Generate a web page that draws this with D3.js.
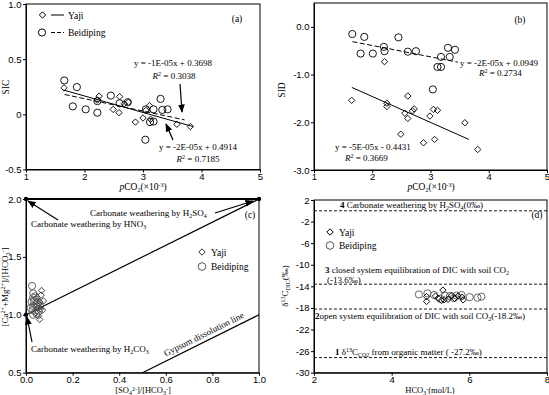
<!DOCTYPE html>
<html><head><meta charset="utf-8">
<script src="https://cdn.jsdelivr.net/npm/d3@7"></script>
<style>
body{margin:0;background:#fff;}
svg{display:block;font-family:"Liberation Serif","Times New Roman",serif;}
.tick text{font-size:9.5px;fill:#000;}
.domain,.tick line{stroke:#000;}
</style></head><body>
<svg id="c" width="549" height="395"></svg>
<script>
// ---------- Panel (a) SIC vs pCO2 ----------
const yajiPCO2a = [1.65, 2.22, 2.25, 2.49, 2.59, 2.60, 2.68, 2.75, 2.87, 3.00, 3.05, 3.11, 3.13, 3.58, 3.81];
const yajiSIC   = [0.24, 0.13, 0.165, 0.045, 0.015, 0.16, 0.096, 0.11, -0.07, -0.033, 0.036, 0.08, -0.045, -0.09, -0.11];
const beiPCO2a  = [1.655, 1.80, 1.87, 2.02, 2.22, 2.22, 2.45, 2.60, 2.74, 3.04, 3.05, 3.12, 3.18, 3.18, 3.30, 3.33, 3.42];
const beiSIC    = [0.307, 0.072, 0.247, 0.045, 0.015, 0.12, 0.17, 0.10, 0.11, -0.23, 0.045, -0.07, 0.045, -0.065, 0.14, 0.04, 0.045];
const trendYajiAx = [1.64, 3.85], trendYajiAy = [0.22, -0.11];
const trendBeiAx  = [1.66, 3.71], trendBeiAy  = [0.18, -0.05];
const aXTicks = [1, 2, 3, 4, 5], aXLabels = ["1", "2", "3", "4", "5"];
const aYTicks = [-0.5, 0, 0.5, 1.0], aYLabels = ["-0.5", "0", "0.5", "1.0"];

// ---------- Panel (b) SID vs pCO2 ----------
const yajiPCO2b = [1.646, 2.21, 2.25, 2.25, 2.61, 2.56, 2.61, 2.72, 2.69, 2.49, 2.88, 2.99, 3.05, 3.12, 3.07, 3.59, 3.81];
const yajiSID   = [-1.54, -0.73, -1.60, -1.67, -1.45, -1.81, -1.92, -1.72, -1.76, -2.25, -2.43, -1.87, -1.73, -1.75, -2.36, -2.01, -2.57];
const beiPCO2b  = [1.657, 1.863, 1.80, 2.01, 2.20, 2.21, 2.45, 2.61, 2.75, 3.04, 3.18, 3.12, 3.18, 3.30, 3.33, 3.42];
const beiSID    = [-0.15, -0.21, -0.56, -0.56, -0.42, -0.51, -0.22, -0.52, -0.51, -1.31, -0.63, -0.84, -0.84, -0.44, -0.63, -0.48];
const trendBeiBx  = [1.66, 3.47], trendBeiBy  = [-0.31, -0.74];
const trendYajiBx = [1.65, 3.66], trendYajiBy = [-1.27, -2.36];
const bYTicks = [-3, -2, -1, 0], bYLabels = ["-3.0", "-2.0", "-1.0", "0.0"];

// ---------- Panel (c) ----------
const yajiSO4  = [0.067, 0.045, 0.060, 0.071, 0.053, 0.058, 0.035, 0.050, 0.065, 0.040, 0.055, 0.075, 0.048, 0.062];
const yajiCaMg = [1.21, 1.14, 1.11, 1.04, 0.99, 0.96, 1.08, 1.06, 1.17, 1.02, 1.09, 1.12, 1.15, 1.05];
const beiSO4   = [0.026, 0.031, 0.031, 0.024, 0.046, 0.031, 0.049, 0.028, 0.060, 0.031, 0.045, 0.055, 0.020, 0.040, 0.035];
const beiCaMg  = [1.249, 1.185, 1.148, 1.113, 1.10, 1.076, 1.07, 1.04, 1.076, 1.0, 1.01, 1.03, 1.06, 1.16, 1.12];
const cXTicks = [0, 0.2, 0.4, 0.6, 0.8, 1.0], cXLabels = ["0.0", "0.2", "0.4", "0.6", "0.8", "1.0"];
const cYTicks = [0.5, 1.0, 1.5, 2.0], cYLabels = ["0.5", "1.0", "1.5", "2.0"];
const h2so4LineX = [0, 1], h2so4LineY = [1, 2];
const gypsumX = [0.5, 1], gypsumY = [0.5, 1];
const endPointsX = [0, 0, 1], endPointsY = [2, 1, 2];

// ---------- Panel (d) ----------
const yajiHCO3 = [4.90, 4.90, 5.32, 5.13, 5.20, 5.28, 5.45, 5.62, 5.71, 5.81, 5.84, 5.55, 5.35];
const yajiD13C = [-16.8, -15.9, -14.7, -15.8, -16.2, -16.6, -16.4, -16.2, -15.8, -16.0, -16.5, -15.7, -16.5];
const beiHCO3  = [4.70, 4.92, 5.09, 5.37, 5.50, 5.67, 5.80, 6.01, 6.21, 6.31, 5.60, 5.25];
const beiD13C  = [-15.5, -15.3, -15.6, -15.7, -15.8, -15.7, -15.6, -16.0, -16.1, -15.9, -16.2, -16.3];
const dRefLines = [0, -13.6, -18.2, -27.2];
const dXTicks = [2, 4, 6, 8], dXLabels = ["2", "4", "6", "8"];
const dYTicks = [2, -2, -6, -10, -14, -18, -22, -26, -30];
const dYLabels = ["2", "-2", "-6", "-10", "-14", "-18", "-22", "-26", "-30"];

const svg = d3.select("#c");
const defs = svg.append("defs");
defs.append("marker").attr("id", "arr").attr("viewBox", "0 0 10 10").attr("refX", 9).attr("refY", 5)
  .attr("markerWidth", 7).attr("markerHeight", 7).attr("orient", "auto-start-reverse")
  .append("path").attr("d", "M0,1 L10,5 L0,9 Z").attr("fill", "#000");

const diamondPath = "M0,-3.2 L3.2,0 L0,3.2 L-3.2,0 Z";

function frame(g, x, y) {
  const [x0, x1] = x.range(), [y0, y1] = y.range();
  g.append("rect").attr("x", x0).attr("y", Math.min(y0, y1)).attr("width", x1 - x0)
    .attr("height", Math.abs(y1 - y0)).attr("fill", "none").attr("stroke", "#000").attr("stroke-width", 1);
}
function axes(g, x, y, xt, xl, yt, yl) {
  const xa = d3.axisBottom(x).tickValues(xt).tickSize(3).tickPadding(0.5).tickSizeOuter(0).tickFormat((d, i) => xl[i]);
  g.append("g").attr("transform", `translate(0,${y.range()[0]})`).call(xa);
  const ya = d3.axisLeft(y).tickValues(yt).tickSize(3).tickPadding(1.5).tickSizeOuter(0).tickFormat((d, i) => yl[i]);
  g.append("g").attr("transform", `translate(${x.range()[0]},0)`).call(ya);
}
function diamonds(g, x, y, xs, ys, col) {
  g.selectAll(null).data(xs).enter().append("path").attr("d", diamondPath)
    .attr("transform", (d, i) => `translate(${x(d)},${y(ys[i])})`)
    .attr("fill", "none").attr("stroke", col || "#000").attr("stroke-width", 0.9);
}
function circles(g, x, y, xs, ys, col) {
  g.selectAll(null).data(xs).enter().append("circle")
    .attr("cx", d => x(d)).attr("cy", (d, i) => y(ys[i])).attr("r", 3.6)
    .attr("fill", "none").attr("stroke", col || "#000").attr("stroke-width", 0.9);
}
function line(g, x, y, xs, ys, dash, w) {
  g.append("line").attr("x1", x(xs[0])).attr("y1", y(ys[0])).attr("x2", x(xs[1])).attr("y2", y(ys[1]))
    .attr("stroke", "#000").attr("stroke-width", w || 1).attr("stroke-dasharray", dash || null);
}
function txt(g, x, y, s, opts) {
  opts = opts || {};
  const t = g.append("text").attr("x", x).attr("y", y).attr("font-size", opts.size || 9)
    .attr("text-anchor", opts.anchor || "start").attr("fill", "#000");
  if (opts.rot) t.attr("transform", `rotate(${opts.rot},${x},${y})`);
  return t;
}
function span(t, s, o) {
  o = o || {};
  const sp = t.append("tspan").text(s);
  if (o.italic) sp.attr("font-style", "italic");
  if (o.bold) sp.attr("font-weight", "bold");
  if (o.sup) sp.attr("baseline-shift", o.shift || "3px").attr("font-size", "6px");
  if (o.sub) sp.attr("baseline-shift", o.shift || "-2px").attr("font-size", "6px");
  return t;
}
function arrow(g, x1, y1, x2, y2) {
  g.append("line").attr("x1", x1).attr("y1", y1).attr("x2", x2).attr("y2", y2)
    .attr("stroke", "#000").attr("stroke-width", 1.2).attr("marker-end", "url(#arr)");
}
function pco2Label(g, cx, cy) {
  const t = txt(g, cx, cy, "", { anchor: "middle", size: 9.5 });
  span(t, "p", { italic: true }); span(t, "CO"); span(t, "2", { sub: true }); span(t, "(×10"); span(t, "-3", { sup: true }); span(t, ")");
}

// ===== Panel (a) =====
{
  const g = svg.append("g");
  const x = d3.scaleLinear().domain([1, 5]).range([26, 260]);
  const y = d3.scaleLinear().domain([-0.5, 1.0]).range([169.5, 4]);
  frame(g, x, y);
  axes(g, x, y, aXTicks, aXLabels, aYTicks, aYLabels);
  line(g, x, y, trendYajiAx, trendYajiAy, null, 1);
  line(g, x, y, trendBeiAx, trendBeiAy, "5,2.5", 1);
  diamonds(g, x, y, yajiPCO2a, yajiSIC);
  circles(g, x, y, beiPCO2a, beiSIC);
  // legend
  g.append("path").attr("d", diamondPath).attr("transform", "translate(42.5,15)").attr("fill", "none").attr("stroke", "#000");
  g.append("line").attr("x1", 51).attr("x2", 64).attr("y1", 15).attr("y2", 15).attr("stroke", "#000");
  txt(g, 68, 18.5, "", { size: 9.5 }).text("Yaji");
  g.append("circle").attr("cx", 42).attr("cy", 32.5).attr("r", 3.6).attr("fill", "none").attr("stroke", "#000");
  g.append("line").attr("x1", 51).attr("x2", 64).attr("y1", 32.5).attr("y2", 32.5).attr("stroke", "#000").attr("stroke-dasharray", "4,2");
  txt(g, 68, 36, "", { size: 9.5 }).text("Beidiping");
  txt(g, 237, 22, "", { anchor: "middle", size: 9.5 }).text("(a)");
  txt(g, 173, 66, "", { anchor: "middle" }).text("y = -1E-05x + 0.3698");
  { const t = txt(g, 174, 79, "", { anchor: "middle" }); span(t, "R", { italic: true }); span(t, "2", { sup: true }); span(t, " = 0.3038"); }
  arrow(g, 180, 84, 182, 112);
  txt(g, 198, 150, "", { anchor: "middle" }).text("y = -2E-05x + 0.4914");
  { const t = txt(g, 198, 162, "", { anchor: "middle" }); span(t, "R", { italic: true }); span(t, "2", { sup: true }); span(t, " = 0.7185"); }
  arrow(g, 173, 140, 166, 124);
  txt(g, 9, 87, "", { anchor: "middle", rot: -90, size: 9.5 }).text("SIC");
  pco2Label(g, 143, 190);
}

// ===== Panel (b) =====
{
  const g = svg.append("g");
  const x = d3.scaleLinear().domain([1, 5]).range([314, 547]);
  const y = d3.scaleLinear().domain([-3, 0.5]).range([170, 3]);
  frame(g, x, y);
  axes(g, x, y, aXTicks, aXLabels, bYTicks, bYLabels);
  line(g, x, y, trendBeiBx, trendBeiBy, "5,2.5", 1);
  line(g, x, y, trendYajiBx, trendYajiBy, null, 1);
  diamonds(g, x, y, yajiPCO2b, yajiSID);
  circles(g, x, y, beiPCO2b, beiSID);
  txt(g, 520, 23, "", { anchor: "middle", size: 9.5 }).text("(b)");
  txt(g, 460, 66, "").text("y = -2E-05x + 0.0949");
  { const t = txt(g, 479, 76, ""); span(t, "R", { italic: true }); span(t, "2", { sup: true }); span(t, " = 0.2734"); }
  txt(g, 335, 150, "").text("y = -5E-05x - 0.4431");
  { const t = txt(g, 345, 161, ""); span(t, "R", { italic: true }); span(t, "2", { sup: true }); span(t, " = 0.3669"); }
  txt(g, 285, 90, "", { anchor: "middle", rot: -90, size: 9.5 }).text("SID");
  pco2Label(g, 431, 190);
}

// ===== Panel (c) =====
{
  const g = svg.append("g");
  const x = d3.scaleLinear().domain([0, 1]).range([26, 259]);
  const y = d3.scaleLinear().domain([0.5, 2.0]).range([372.7, 199]);
  frame(g, x, y);
  axes(g, x, y, cXTicks, cXLabels, cYTicks, cYLabels);
  line(g, x, y, [0, 1], [2, 2], null, 1.8);
  line(g, x, y, h2so4LineX, h2so4LineY, null, 1.2);
  line(g, x, y, gypsumX, gypsumY, null, 1.2);
  g.selectAll(null).data(endPointsX).enter().append("circle")
    .attr("cx", d => x(d)).attr("cy", (d, i) => y(endPointsY[i])).attr("r", 2.2).attr("fill", "#000");
  diamonds(g, x, y, yajiSO4, yajiCaMg, "#333");
  circles(g, x, y, beiSO4, beiCaMg, "#555");
  // legend
  g.append("path").attr("d", diamondPath).attr("transform", "translate(202,252)").attr("fill", "none").attr("stroke", "#333");
  txt(g, 211, 255.5, "", { size: 9.5 }).text("Yaji");
  g.append("circle").attr("cx", 202).attr("cy", 266.5).attr("r", 3.8).attr("fill", "none").attr("stroke", "#555");
  txt(g, 211, 270, "", { size: 9.5 }).text("Beidiping");
  txt(g, 250, 218, "", { anchor: "middle", size: 9.5 }).text("(c)");
  { const t = txt(g, 31, 227, ""); span(t, "Carbonate weathering by HNO"); span(t, "3", { sub: true }); }
  arrow(g, 58, 220, 28, 201);
  { const t = txt(g, 90, 216, ""); span(t, "Carbonate weathering by H"); span(t, "2", { sub: true }); span(t, "SO"); span(t, "4", { sub: true }); }
  arrow(g, 215, 213, 253, 201);
  { const t = txt(g, 31, 352, ""); span(t, "Carbonate weathering by H"); span(t, "2", { sub: true }); span(t, "CO"); span(t, "3", { sub: true }); }
  arrow(g, 32, 342, 27, 317);
  { const gx = x(0.6), gy = y(0.64); const ang = Math.atan2(y(1) - y(0.5), x(1) - x(0.5)) * 180 / Math.PI;
    txt(g, gx, gy, "", { rot: ang }).text("Gypsum dissolution line"); }
  { const t = txt(g, 8, 287, "", { anchor: "middle", rot: -90 });
    span(t, "[Ca"); span(t, "2+", { sup: true }); span(t, "+Mg"); span(t, "2+", { sup: true }); span(t, "]/[HCO"); span(t, "3", { sub: true }); span(t, "-", { sup: true }); span(t, "]"); }
  { const t = txt(g, 143, 393, "", { anchor: "middle", size: 8.5 });
    span(t, "[SO"); span(t, "4", { sub: true, shift: "-1.5px" }); span(t, "2-", { sup: true, shift: "2.5px" }); span(t, "]/[HCO"); span(t, "3", { sub: true, shift: "-1.5px" }); span(t, "-", { sup: true, shift: "2.5px" }); span(t, "]"); }
}

// ===== Panel (d) =====
{
  const g = svg.append("g");
  const x = d3.scaleLinear().domain([2, 8]).range([314, 547]);
  const y = d3.scaleLinear().domain([-30, 2]).range([372.7, 200]);
  frame(g, x, y);
  axes(g, x, y, dXTicks, dXLabels, dYTicks, dYLabels);
  g.selectAll(null).data(dRefLines).enter().append("line")
    .attr("x1", x(2)).attr("x2", x(8)).attr("y1", d => y(d)).attr("y2", d => y(d))
    .attr("stroke", "#000").attr("stroke-width", 0.9).attr("stroke-dasharray", "3,2");
  circles(g, x, y, beiHCO3, beiD13C, "#555");
  diamonds(g, x, y, yajiHCO3, yajiD13C, "#000");
  g.append("path").attr("d", diamondPath).attr("transform", "translate(330,232)").attr("fill", "none").attr("stroke", "#000");
  txt(g, 339, 235.5, "", { size: 9.5 }).text("Yaji");
  g.append("circle").attr("cx", 330).attr("cy", 245.5).attr("r", 3.8).attr("fill", "none").attr("stroke", "#555");
  txt(g, 339, 249, "", { size: 9.5 }).text("Beidiping");
  txt(g, 537, 218, "", { anchor: "middle", size: 9.5 }).text("(d)");
  { const t = txt(g, 340, 208, ""); span(t, "4 ", { bold: true }); span(t, "Carbonate weathering by H"); span(t, "2", { sub: true }); span(t, "SO"); span(t, "4", { sub: true }); span(t, "(0‰)"); }
  { const t = txt(g, 325, 273, ""); span(t, "3 ", { bold: true }); span(t, "closed system equilibration of DIC with soil CO"); span(t, "2", { sub: true }); }
  txt(g, 327, 283, "").text("(-13.6‰)");
  { const t = txt(g, 315, 319, ""); span(t, "2", { bold: true }); span(t, "open system equilibration of DIC with soil CO"); span(t, "2", { sub: true }); span(t, "(-18.2‰)"); }
  { const t = txt(g, 335, 355, ""); span(t, "1 ", { bold: true }); span(t, " δ"); span(t, "13", { sup: true }); span(t, "C"); span(t, "CO2", { sub: true }); span(t, " from organic matter ( -27.2‰)"); }
  { const t = txt(g, 288, 286, "", { anchor: "middle", rot: -90 });
    span(t, "δ"); span(t, "13", { sup: true }); span(t, "C"); span(t, "DIC", { sub: true }); span(t, "(‰)"); }
  { const t = txt(g, 430, 393, "", { anchor: "middle", size: 8.5 });
    span(t, "HCO"); span(t, "3", { sub: true, shift: "-1.5px" }); span(t, "-", { sup: true, shift: "2.5px" }); span(t, "(mol/L)"); }
}
</script></body></html>
